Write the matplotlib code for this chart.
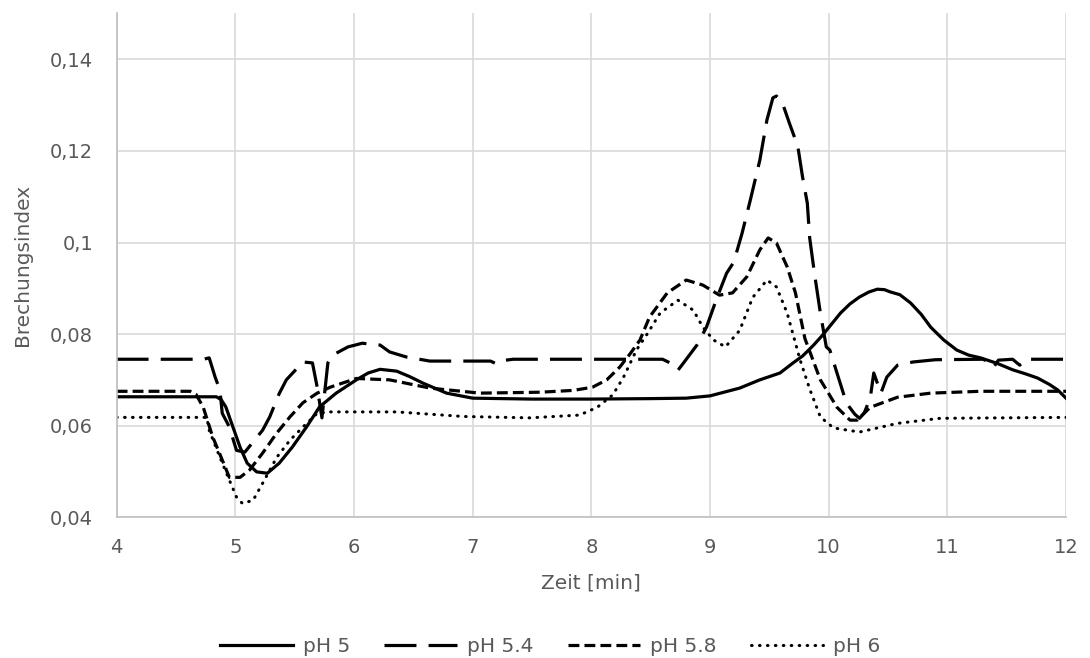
import matplotlib
matplotlib.use("Agg")
import matplotlib.pyplot as plt
from matplotlib.ticker import FixedLocator, FixedFormatter

# Zeit [min] / Brechungsindex
t_ph5 = [4.0, 4.84, 4.88, 4.92, 4.98, 5.04, 5.1, 5.18, 5.27, 5.37, 5.48, 5.6, 5.71, 5.85,
         6.02, 6.12, 6.22, 6.36, 6.47, 6.58, 6.78, 7.0, 7.5, 8.0, 8.5, 8.8, 9.0, 9.25,
         9.42, 9.59, 9.7, 9.78, 9.87, 9.95, 10.1, 10.18, 10.26, 10.34, 10.41, 10.47,
         10.52, 10.6, 10.69, 10.78, 10.86, 10.97, 11.08, 11.18, 11.28, 11.42, 11.55,
         11.66, 11.76, 11.86, 11.93, 12.0]
v_ph5 = [0.0663, 0.0663, 0.0657, 0.0641, 0.0597, 0.0553, 0.0518, 0.0499, 0.0496, 0.0518,
         0.0553, 0.0597, 0.0641, 0.0671, 0.0700, 0.0715, 0.0723, 0.0719, 0.0707, 0.0693,
         0.0671, 0.0660, 0.0658, 0.0658, 0.0659, 0.0660, 0.0665, 0.0682, 0.0700, 0.0715,
         0.0737, 0.0752, 0.0775, 0.0798, 0.0846, 0.0866, 0.0881, 0.0892, 0.0898, 0.0897,
         0.0892, 0.0886, 0.0868, 0.0843, 0.0815, 0.0787, 0.0765, 0.0754, 0.0748, 0.0736,
         0.0722, 0.0713, 0.0704, 0.0690, 0.0678, 0.0660]

t_ph54 = [4.0, 4.73, 4.78, 4.83, 4.87, 4.89, 4.95, 5.01, 5.08, 5.23, 5.29, 5.37, 5.43,
          5.57, 5.65, 5.69, 5.73, 5.78, 5.82, 5.95, 6.07, 6.22, 6.3, 6.44, 6.64, 6.92,
          7.15, 7.2, 7.25, 7.34, 8.0, 8.6, 8.68, 8.73, 8.78, 8.89, 8.97, 9.06, 9.14,
          9.2, 9.27, 9.34, 9.42, 9.48, 9.53, 9.56, 9.61, 9.67, 9.74, 9.78, 9.82, 9.84,
          9.88, 9.93, 9.98, 10.01, 10.07, 10.15, 10.22, 10.26, 10.3, 10.35, 10.38, 10.44,
          10.49, 10.58, 10.71, 10.9, 11.3, 11.36, 11.39, 11.43, 11.55, 11.61, 11.66, 12.0]
v_ph54 = [0.0745, 0.0745, 0.0748, 0.0706, 0.0678, 0.0627, 0.0597, 0.0546, 0.0542, 0.0590,
          0.0619, 0.0670, 0.0700, 0.0739, 0.0737, 0.0684, 0.0617, 0.0737, 0.0754, 0.0772,
          0.0780, 0.0776, 0.0761, 0.0750, 0.0741, 0.0741, 0.0741, 0.0735, 0.0742, 0.0745,
          0.0745, 0.0745, 0.0735, 0.0721, 0.0738, 0.0776, 0.0815, 0.0880, 0.0933, 0.0957,
          0.1020, 0.1093, 0.1180, 0.1268, 0.1316, 0.1320, 0.1305, 0.1260, 0.1210, 0.1143,
          0.1086, 0.1010, 0.0933, 0.0846, 0.0772, 0.0765, 0.0715, 0.0649, 0.0625, 0.0616,
          0.0628, 0.0660, 0.0715, 0.0671, 0.0706, 0.0732, 0.0739, 0.0744, 0.0745, 0.0738,
          0.0728, 0.0743, 0.0745, 0.0732, 0.0745, 0.0745]

t_ph58 = [4.0, 4.62, 4.67, 4.73, 4.81, 4.89, 4.95, 5.04, 5.12, 5.23, 5.35, 5.46, 5.57,
          5.69, 5.8, 6.02, 6.3, 6.64, 7.06, 7.57, 7.85, 8.01, 8.13, 8.24, 8.33, 8.41,
          8.49, 8.64, 8.8, 8.94, 9.08, 9.19, 9.31, 9.42, 9.49, 9.56, 9.65, 9.72, 9.8,
          9.93, 10.07, 10.18, 10.24, 10.35, 10.58, 10.86, 11.28, 12.0]
v_ph58 = [0.0675, 0.0675, 0.0668, 0.0640, 0.0575, 0.0525, 0.0487, 0.0487, 0.0503, 0.0540,
          0.0584, 0.0619, 0.0650, 0.0671, 0.0684, 0.0703, 0.0700, 0.0682, 0.0671, 0.0673,
          0.0677, 0.0684, 0.0700, 0.0728, 0.0758, 0.0787, 0.0837, 0.0890, 0.0918, 0.0907,
          0.0885, 0.0890, 0.0925, 0.0984, 0.1010, 0.0999, 0.0947, 0.0890, 0.0790, 0.0700,
          0.0640, 0.0612, 0.0612, 0.0640, 0.0662, 0.0671, 0.0675, 0.0675]

t_ph6 = [4.0, 4.76, 4.78, 4.87, 4.95, 5.01, 5.06, 5.15, 5.23, 5.35, 5.46, 5.57, 5.69, 5.8,
         6.36, 6.92, 7.48, 7.9, 8.05, 8.18, 8.27, 8.38, 8.47, 8.58, 8.73, 8.86, 8.94,
         9.03, 9.13, 9.25, 9.36, 9.48, 9.56, 9.65, 9.76, 9.84, 9.93, 10.04, 10.26, 10.58,
         10.94, 12.0]
v_ph6 = [0.0618, 0.0618, 0.0590, 0.0531, 0.0481, 0.0444, 0.0430, 0.0437, 0.0474, 0.0531,
         0.0568, 0.0597, 0.0627, 0.0630, 0.0630, 0.0620, 0.0617, 0.0623, 0.0640, 0.0667,
         0.0705, 0.0765, 0.0800, 0.0846, 0.0874, 0.0852, 0.0815, 0.0787, 0.0772, 0.0808,
         0.0880, 0.0918, 0.0903, 0.0846, 0.0743, 0.0680, 0.0619, 0.0595, 0.0586, 0.0605,
         0.0616, 0.0618]

y_ticks = [0.04, 0.06, 0.08, 0.10, 0.12, 0.14]
y_labels = ["0,04", "0,06", "0,08", "0,1", "0,12", "0,14"]
x_ticks = [4, 5, 6, 7, 8, 9, 10, 11, 12]

grau = "#595959"
plt.rcParams["font.family"] = ["DejaVu Sans"]

fig = plt.figure(figsize=(10.9, 6.58), dpi=100)
ax = fig.add_axes([0.107, 0.214, 0.871, 0.766])

ax.plot(t_ph5, v_ph5, color="black", lw=2.3, label="pH 5")
ax.plot(t_ph54, v_ph54, color="black", lw=2.3, linestyle=(0, (10, 3.8)), label="pH 5.4")
ax.plot(t_ph58, v_ph58, color="black", lw=2.3, linestyle=(0, (3.4, 1.6)), label="pH 5.8")
ax.plot(t_ph6, v_ph6, color="black", lw=2.2, linestyle=(0, (0.2, 2.4)),
        dash_capstyle="round", label="pH 6")

ax.set_xlim(4, 12)
ax.set_ylim(0.04, 0.1501)
ax.xaxis.set_major_locator(FixedLocator(x_ticks))
ax.yaxis.set_major_locator(FixedLocator(y_ticks))
ax.yaxis.set_major_formatter(FixedFormatter(y_labels))
ax.grid(True, color="#d9d9d9", lw=1.2)
ax.set_axisbelow(True)
for s in ["top", "right"]:
    ax.spines[s].set_visible(False)
for s in ["left", "bottom"]:
    ax.spines[s].set_color("#bfbfbf")
    ax.spines[s].set_linewidth(1.2)
ax.tick_params(length=0, labelsize=14, colors=grau)
ax.tick_params(axis="y", pad=17)
ax.tick_params(axis="x", pad=15)

ax.set_xlabel("Zeit [min]", fontsize=14.5, color=grau, va="center")
ax.xaxis.set_label_coords(0.5, -0.131)
ax.set_ylabel("Brechungsindex", fontsize=14.5, color=grau, va="center")
ax.yaxis.set_label_coords(-0.099, 0.5)

fig.legend(loc="center", ncol=4, frameon=False, fontsize=14.5, labelcolor=grau,
           handlelength=3.6, handletextpad=0.5, columnspacing=1.7,
           bbox_to_anchor=(0.505, 1 - 647 / 658))

fig.savefig("out.png", dpi=100)
